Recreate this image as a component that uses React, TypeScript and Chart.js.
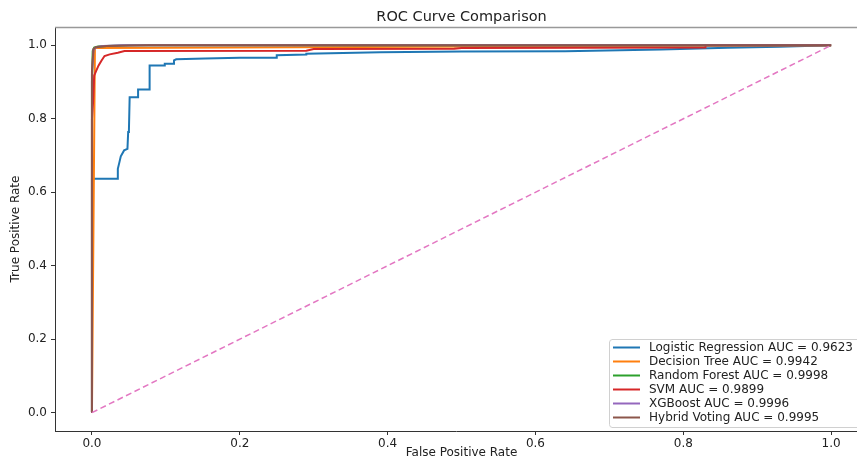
import React, { useEffect, useRef } from 'react';
import { Chart, registerables } from 'chart.js';
Chart.register(...registerables);

const TITLE = 'ROC Curve Comparison';
const X_LABEL = 'False Positive Rate';
const Y_LABEL = 'True Positive Rate';
const TICKS = [0, 0.2, 0.4, 0.6, 0.8, 1.0];

const MODEL_NAMES = ['Logistic Regression', 'Decision Tree', 'Random Forest', 'SVM', 'XGBoost', 'Hybrid Voting'];
const MODEL_AUC = ['0.9623', '0.9942', '0.9998', '0.9899', '0.9996', '0.9995'];
const MODEL_COLORS = ['#1f77b4', '#ff7f0e', '#2ca02c', '#d62728', '#9467bd', '#8c564b'];
const CHANCE_COLOR = '#e377c2';

const LR_FPR = [0, 0, 0.0345, 0.035, 0.0367, 0.039, 0.0435, 0.048, 0.049, 0.050, 0.051, 0.0624, 0.0624, 0.078, 0.078, 0.0985, 0.0985, 0.111, 0.111, 0.114, 0.153, 0.2, 0.25, 0.25, 0.29, 0.29, 0.39, 0.50, 0.64, 0.77, 0.86, 0.93, 1.0];
const LR_TPR = [0, 0.637, 0.637, 0.664, 0.678, 0.698, 0.714, 0.718, 0.764, 0.768, 0.859, 0.859, 0.88, 0.88, 0.9455, 0.9455, 0.950, 0.950, 0.959, 0.962, 0.964, 0.966, 0.966, 0.973, 0.975, 0.977, 0.981, 0.983, 0.984, 0.989, 0.9935, 0.996, 1.0];

const DT_FPR = [0, 0.004, 1.0];
const DT_TPR = [0, 0.993, 1.0];

const RF_FPR = [0, 0, 0.001, 0.003, 0.008, 0.02, 0.05, 1.0];
const RF_TPR = [0, 0.9, 0.985, 0.994, 0.997, 0.998, 1.0, 1.0];

const SVM_FPR = [0, 0, 0.0015, 0.003, 0.006, 0.009, 0.013, 0.017, 0.024, 0.035, 0.044, 0.29, 0.30, 0.49, 0.50, 0.83, 0.83, 1.0];
const SVM_TPR = [0, 0.80, 0.845, 0.918, 0.932, 0.9455, 0.959, 0.971, 0.9755, 0.980, 0.9845, 0.9855, 0.990, 0.991, 0.993, 0.994, 1.0, 1.0];

const XGB_FPR = [0, 0, 0.002, 0.006, 0.015, 0.04, 1.0];
const XGB_TPR = [0, 0.92, 0.988, 0.995, 0.998, 1.0, 1.0];

const HV_FPR = [0, 0, 0.002, 0.005, 0.02, 0.076, 1.0];
const HV_TPR = [0, 0.93, 0.99, 0.995, 0.998, 1.0, 1.0];

const CHANCE_FPR = [0, 1];
const CHANCE_TPR = [0, 1];

const CURVES_FPR = [LR_FPR, DT_FPR, RF_FPR, SVM_FPR, XGB_FPR, HV_FPR];
const CURVES_TPR = [LR_TPR, DT_TPR, RF_TPR, SVM_TPR, XGB_TPR, HV_TPR];

const FONT = 'DejaVu Sans';
const TEXT_COLOR = '#222';

const zip = (xs: number[], ys: number[]) => xs.map((x, i) => ({ x, y: ys[i] }));

const decorPlugin = {
  id: 'decor',
  afterDraw(chart: any) {
    const { ctx, chartArea, scales } = chart;
    const xs = scales.x;
    ctx.save();
    // top spine
    ctx.strokeStyle = '#999';
    ctx.lineWidth = 1.5;
    ctx.beginPath();
    ctx.moveTo(chartArea.left, chartArea.top + 0.5);
    ctx.lineTo(chartArea.right, chartArea.top + 0.5);
    ctx.stroke();

    const cx = xs.getPixelForValue(0.5);
    ctx.fillStyle = TEXT_COLOR;
    ctx.textAlign = 'center';
    ctx.textBaseline = 'middle';
    ctx.font = `14.5px "${FONT}"`;
    ctx.fillText(TITLE, cx, 17);
    ctx.font = `12px "${FONT}"`;
    ctx.fillText(X_LABEL, cx, 453);
    ctx.save();
    ctx.translate(16, (chartArea.top + chartArea.bottom) / 2);
    ctx.rotate(-Math.PI / 2);
    ctx.fillText(Y_LABEL, 0, 0);
    ctx.restore();

    // legend
    const bx = 609, by = 339, bw = 260, bh = 88, r = 3;
    ctx.fillStyle = 'rgba(255,255,255,0.85)';
    ctx.strokeStyle = '#d0d0d0';
    ctx.lineWidth = 1;
    ctx.beginPath();
    ctx.moveTo(bx + r, by + 0.5);
    ctx.lineTo(bx + bw, by + 0.5);
    ctx.lineTo(bx + bw, by + bh + 0.5);
    ctx.lineTo(bx + r, by + bh + 0.5);
    ctx.arcTo(bx + 0.5, by + bh + 0.5, bx + 0.5, by + bh - r, r);
    ctx.lineTo(bx + 0.5, by + r);
    ctx.arcTo(bx + 0.5, by + 0.5, bx + r, by + 0.5, r);
    ctx.closePath();
    ctx.fill();
    ctx.stroke();

    ctx.textAlign = 'left';
    ctx.textBaseline = 'middle';
    ctx.font = `12px "${FONT}"`;
    MODEL_NAMES.forEach((name, i) => {
      const y = 347.5 + i * 14;
      ctx.strokeStyle = MODEL_COLORS[i];
      ctx.lineWidth = 2;
      ctx.beginPath();
      ctx.moveTo(613, y);
      ctx.lineTo(640, y);
      ctx.stroke();
      ctx.fillStyle = TEXT_COLOR;
      ctx.fillText(`${name} AUC = ${MODEL_AUC[i]}`, 649, y + 0.5);
    });
    ctx.restore();
  },
};

export default function App() {
  const ref = useRef<HTMLCanvasElement>(null);
  useEffect(() => {
    document.body.style.margin = '0';
    const datasets: any[] = MODEL_NAMES.map((name, i) => ({
      label: `${name} AUC = ${MODEL_AUC[i]}`,
      data: zip(CURVES_FPR[i], CURVES_TPR[i]),
      borderColor: MODEL_COLORS[i],
      backgroundColor: MODEL_COLORS[i],
      borderWidth: 2,
      pointRadius: 0,
      showLine: true,
      tension: 0,
      order: 10 - i,
    }));
    datasets.push({
      label: 'Chance',
      data: zip(CHANCE_FPR, CHANCE_TPR),
      borderColor: CHANCE_COLOR,
      backgroundColor: CHANCE_COLOR,
      borderWidth: 1.5,
      borderDash: [6, 3.5],
      pointRadius: 0,
      showLine: true,
      order: 1,
    });
    const tickFont = { family: FONT, size: 12 };
    const chart = new Chart(ref.current!, {
      type: 'scatter',
      data: { datasets },
      plugins: [decorPlugin],
      options: {
        animation: false,
        responsive: false,
        devicePixelRatio: 1,
        layout: { padding: { top: 27, left: 0, right: 0, bottom: 0 } },
        plugins: { legend: { display: false }, title: { display: false }, tooltip: { enabled: false } },
        scales: {
          x: {
            type: 'linear',
            min: -0.05,
            max: 1.035,
            afterBuildTicks: (s: any) => { s.ticks = TICKS.map((v) => ({ value: v })); },
            afterFit: (s: any) => { s.height = 28; },
            ticks: { font: tickFont, color: TEXT_COLOR, padding: 2, maxRotation: 0, autoSkip: false, callback: (v: any) => Number(v).toFixed(1) },
            grid: { drawOnChartArea: false, tickLength: 4, color: '#333' },
            border: { color: '#333', width: 1 },
          },
          y: {
            type: 'linear',
            min: -0.05,
            max: 1.05,
            afterBuildTicks: (s: any) => { s.ticks = TICKS.map((v) => ({ value: v })); },
            afterFit: (s: any) => { s.width = 55; },
            ticks: { font: tickFont, color: TEXT_COLOR, padding: 4, autoSkip: false, callback: (v: any) => Number(v).toFixed(1) },
            grid: { drawOnChartArea: false, tickLength: 4, color: '#333' },
            border: { color: '#333', width: 1 },
          },
        },
      },
    });
    return () => chart.destroy();
  }, []);
  return (
    <div style={{ width: 857, height: 459 }}>
      <canvas ref={ref} width={857} height={459} style={{ display: 'block' }} />
    </div>
  );
}
